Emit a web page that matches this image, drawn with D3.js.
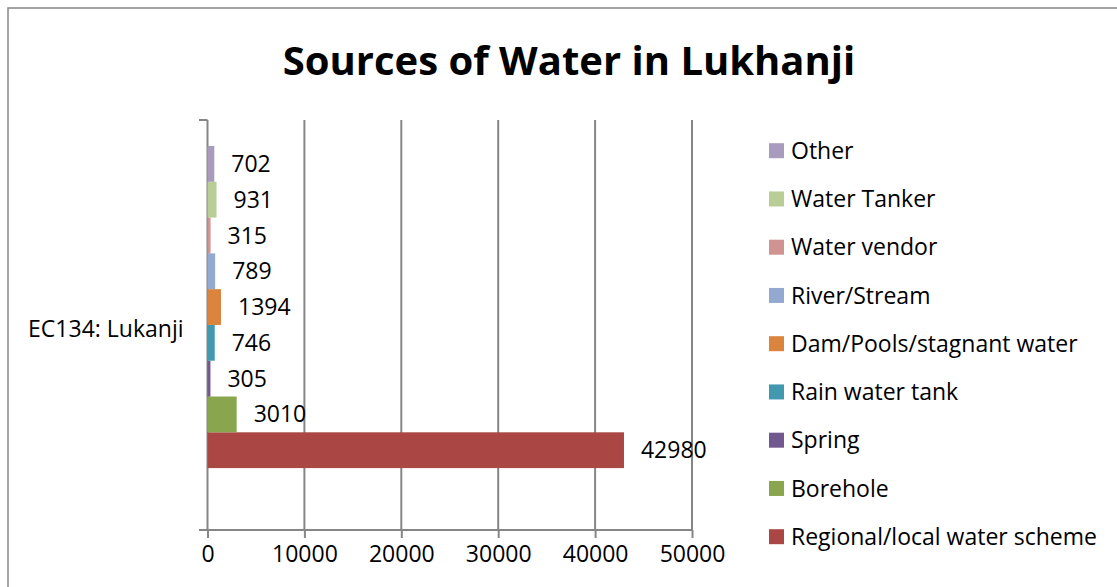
<!DOCTYPE html>
<html>
<head>
<meta charset="utf-8">
<script src="https://cdn.jsdelivr.net/npm/d3@7"></script>
<style>
  body { margin: 0; background: #fff; }
  svg { display: block; font-family: "Open Sans", sans-serif; }
</style>
</head>
<body>
<svg width="1117" height="587"></svg>
<script>
// data, bottom series first (as Excel stacks them)
var categories = ["EC134: Lukanji"];
var seriesNames = ["Regional/local water scheme", "Borehole", "Spring", "Rain water tank",
  "Dam/Pools/stagnant water", "River/Stream", "Water vendor", "Water Tanker", "Other"];
var seriesValues = [42980, 3010, 305, 746, 1394, 789, 315, 931, 702];
var seriesColors = ["#AA4643", "#89A54E", "#71588F", "#4198AF", "#DB843D",
  "#93A9CF", "#D19392", "#B9CD96", "#A99BBD"];
var xTicks = [0, 10000, 20000, 30000, 40000, 50000];

var svg = d3.select("svg");
var gridColor = "#868686";

// outer chart border (runs past right and bottom of the window)
svg.append("rect")
  .attr("x", 8).attr("y", 8)
  .attr("width", 1130).attr("height", 600)
  .attr("fill", "none")
  .attr("stroke", gridColor)
  .attr("stroke-width", 1.5);

svg.append("text")
  .attr("x", 569).attr("y", 75)
  .attr("text-anchor", "middle")
  .attr("font-weight", "bold")
  .attr("font-size", 40)
  .text("Sources of Water in Lukhanji");

var x = d3.scaleLinear().domain([0, 50000]).range([207.5, 692]);
var y0 = d3.scaleBand().domain(categories).range([120, 530]);
var bw = y0.bandwidth();
var y1 = d3.scaleBand()
  .domain(seriesNames.slice().reverse())
  .range([y0(categories[0]) + bw * 0.0634, y0(categories[0]) + bw * (1 - 0.151)]);

// gridlines
svg.append("g").selectAll("line")
  .data(xTicks.slice(1))
  .enter().append("line")
  .attr("x1", d => x(d)).attr("x2", d => x(d))
  .attr("y1", 120).attr("y2", 530)
  .attr("stroke", gridColor).attr("stroke-width", 2);

// x axis
var xAxis = svg.append("g")
  .attr("transform", "translate(0,530)")
  .call(d3.axisBottom(x).tickValues(xTicks).tickSize(8).tickSizeOuter(0).tickPadding(8).tickFormat(d3.format("d")));
xAxis.select(".domain").remove();
xAxis.append("line")
  .attr("x1", 199).attr("x2", 692)
  .attr("stroke", gridColor).attr("stroke-width", 2);
xAxis.selectAll(".tick line").attr("stroke", gridColor).attr("stroke-width", 2);
xAxis.selectAll(".tick text")
  .attr("font-family", "Open Sans").attr("font-size", 23).attr("fill", "#000");

// y axis (category)
var yAxis = svg.append("g")
  .attr("transform", "translate(207.5,0)");
yAxis.append("line")
  .attr("y1", 120).attr("y2", 530)
  .attr("stroke", gridColor).attr("stroke-width", 2);
yAxis.selectAll(".edge")
  .data([120, 530])
  .enter().append("line")
  .attr("x1", -8.5).attr("x2", 0)
  .attr("y1", d => d).attr("y2", d => d)
  .attr("stroke", gridColor).attr("stroke-width", 2);
yAxis.selectAll(".cat")
  .data(categories)
  .enter().append("text")
  .attr("x", -24)
  .attr("y", d => y0(d) + bw / 2 + 4)
  .attr("dy", "0.35em")
  .attr("text-anchor", "end")
  .attr("font-size", 23)
  .text(d => d);

// bars
var bars = seriesNames.map((n, i) => ({ name: n, value: seriesValues[i], color: seriesColors[i] }));
svg.append("g").selectAll("rect")
  .data(bars)
  .enter().append("rect")
  .attr("x", x(0))
  .attr("y", d => y1(d.name))
  .attr("width", d => x(d.value) - x(0))
  .attr("height", y1.bandwidth())
  .attr("fill", d => d.color);

svg.append("g").selectAll("text")
  .data(bars)
  .enter().append("text")
  .attr("x", d => x(d.value) + 17)
  .attr("y", d => y1(d.name) + y1.bandwidth() / 2)
  .attr("dy", "0.35em")
  .attr("font-size", 23)
  .text(d => d.value);

// legend, top to bottom
var legend = svg.append("g").selectAll("g")
  .data(bars.slice().reverse())
  .enter().append("g")
  .attr("transform", (d, i) => "translate(769," + (150.7 + i * 48.25) + ")");
legend.append("rect")
  .attr("x", 0).attr("y", -7.5)
  .attr("width", 15).attr("height", 15)
  .attr("fill", d => d.color);
legend.append("text")
  .attr("x", 22).attr("dy", "0.35em")
  .attr("font-size", 23)
  .text(d => d.name);
</script>
</body>
</html>
